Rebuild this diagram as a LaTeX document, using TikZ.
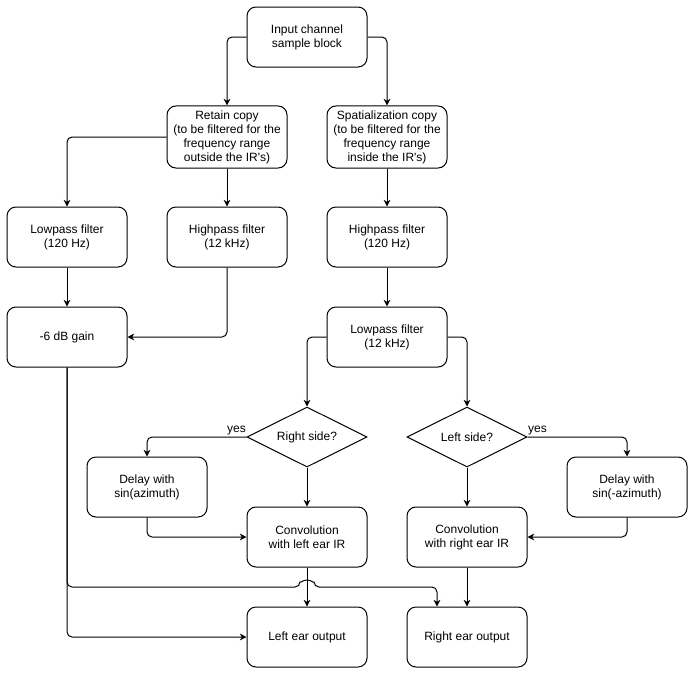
\documentclass[tikz,border=0pt]{standalone}
\usepackage{fontspec}
\setmainfont{Liberation Sans}
\usetikzlibrary{shapes.geometric,arrows.meta}

\begin{document}
\begin{tikzpicture}[x=0.75pt,y=-0.75pt,font=\fontsize{9}{10.5}\selectfont,
    block/.style={draw,rounded corners=6.75pt,minimum width=90pt,minimum height=45pt,align=center,line width=0.75pt},
    check/.style={draw,diamond,aspect=2,minimum width=90pt,minimum height=45pt,inner sep=0pt,line width=0.75pt},
    link/.style={-{Stealth[length=5pt,width=5pt,inset=1.5pt]},line width=0.75pt,rounded corners=3.75pt}]
    \useasboundingbox (0,0) rectangle (695,675);

    % Input and the two copies.
    \node[block] (input) at (307,37) {Input channel\\sample block};
    \node[block] (retain) at (227,137) {Retain copy\\(to be filtered for the\\frequency range\\outside the IR\textquotesingle s)};
    \node[block] (spatial) at (387,137) {Spatialization copy\\(to be filtered for the\\frequency range\\inside the IR\textquotesingle s)};

    % Filter stages.
    \node[block] (lp1) at (67,237) {Lowpass filter\\(120 Hz)};
    \node[block] (hp1) at (227,237) {Highpass filter\\(12 kHz)};
    \node[block] (hp2) at (387,237) {Highpass filter\\(120 Hz)};
    \node[block] (gain) at (67,337) {-6 dB gain};
    \node[block] (lp2) at (387,337) {Lowpass filter\\(12 kHz)};

    % Side decisions and delays.
    \node[check] (rside) at (307,437) {Right side?};
    \node[check] (lside) at (467,437) {Left side?};
    \node[block] (delayl) at (147,487) {Delay with\\sin(azimuth)};
    \node[block] (delayr) at (627,487) {Delay with\\sin(-azimuth)};

    % Convolution and outputs.
    \node[block] (convl) at (307,537) {Convolution\\with left ear IR};
    \node[block] (convr) at (467,537) {Convolution\\with right ear IR};
    \node[block] (outl) at (307,637) {Left ear output};
    \node[block] (outr) at (467,637) {Right ear output};

    % Connections.
    \draw[link] (input.west) -| (retain.north);
    \draw[link] (input.east) -| (spatial.north);
    \draw[link] (retain.west) -| (lp1.north);
    \draw[link] (retain.south) -- (hp1.north);
    \draw[link] (spatial.south) -- (hp2.north);
    \draw[link] (lp1.south) -- (gain.north);
    \draw[link] (hp1.south) |- (gain.east);
    \draw[link] (hp2.south) -- (lp2.north);
    \draw[link] (lp2.west) -| (rside.north);
    \draw[link] (lp2.east) -| (lside.north);
    \draw[link] (rside.west) -| node[pos=0.05,above,inner sep=1.5pt] (yesl) {yes} (delayl.north);
    \draw[link] (lside.east) -| node[pos=0.05,above,inner sep=1.5pt] (yesr) {yes} (delayr.north);
    \draw[link] (rside.south) -- (convl.north);
    \draw[link] (lside.south) -- (convr.north);
    \draw[link] (delayl.south) |- (convl.west);
    \draw[link] (delayr.south) |- (convr.east);
    \draw[link] (convl.south) -- (outl.north);
    \draw[link] (convr.south) -- (outr.north);
    \draw[link] (gain.south) |- (outl.west);
    \draw[link] (gain.south) |- (300,587) arc[start angle=180,end angle=360,radius=7] -| ([xshift=-22.5pt]outr.north);
\end{tikzpicture}
\end{document}
